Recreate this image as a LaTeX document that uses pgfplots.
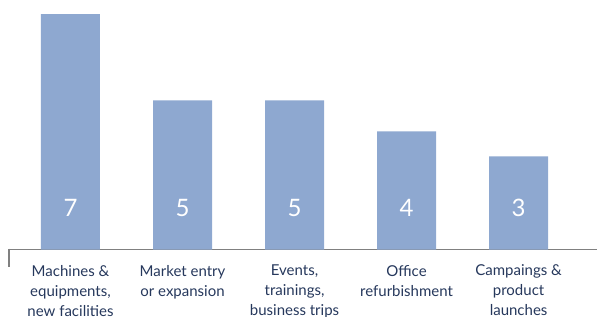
\documentclass[border=0pt]{standalone}
\usepackage{pgfplots}
\pgfplotsset{compat=1.18}
\usepackage{fontspec}
\setmainfont{Lato}
\definecolor{barblue}{RGB}{142,168,208}
\definecolor{navy}{RGB}{38,56,92}
\definecolor{axgray}{RGB}{128,128,128}
\begin{document}
\begin{tikzpicture}
\useasboundingbox (-10pt,-66.5pt) rectangle (587pt,249.5pt);
\begin{axis}[
  scale only axis,
  width=587pt, height=249.5pt,
  at={(0,0)}, anchor=south west,
  xmin=-0.54, xmax=4.70,
  ymin=0, ymax=8.37,
  axis y line=none,
  axis x line*=bottom,
  x axis line style={draw=axgray, line width=1.6pt, -},
  xtick={0,1,2,3,4},
  xticklabels={{Machines \&\\equipments,\\new facilities},{Market entry\\or expansion},{Events,\\trainings,\\business trips},{Office\\refurbishment},{Campaings \&\\product\\launches}},
  xticklabel style={align=center, font=\fontsize{15}{20}\selectfont, text=navy, yshift=-12pt, anchor=north},
  major tick length=0pt,
  clip=false,
]
\addplot[ybar, bar width=59pt, fill=barblue, draw=none] coordinates {(0,7.9) (1,5) (2,5) (3,3.96) (4,3.12)};
\node[text=white, font=\fontsize{24}{24}\selectfont] at (axis cs:0,1.38) {7};
\node[text=white, font=\fontsize{24}{24}\selectfont] at (axis cs:1,1.38) {5};
\node[text=white, font=\fontsize{24}{24}\selectfont] at (axis cs:2,1.38) {5};
\node[text=white, font=\fontsize{24}{24}\selectfont] at (axis cs:3,1.38) {4};
\node[text=white, font=\fontsize{24}{24}\selectfont] at (axis cs:4,1.38) {3};
\end{axis}
\draw[axgray, line width=1.6pt] (-1pt,0.8pt) -- (-1pt,-17pt);
\end{tikzpicture}
\end{document}
